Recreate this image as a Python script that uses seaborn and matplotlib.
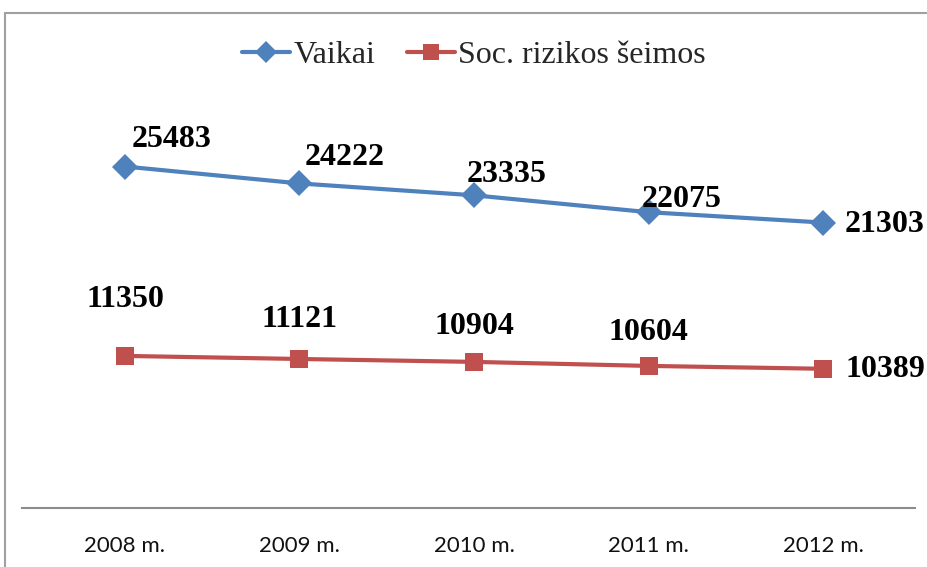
import matplotlib
matplotlib.use("Agg")
import matplotlib.pyplot as plt
import matplotlib.patches as mpatches
import seaborn as sns
import pandas as pd

years = ["2008 m.", "2009 m.", "2010 m.", "2011 m.", "2012 m."]
vaikai = [25483, 24222, 23335, 22075, 21303]
soc = [11350, 11121, 10904, 10604, 10389]
series_names = ["Vaikai", "Soc. rizikos šeimos"]

# label offsets in pixels (style only)
off_vaikai = [(47, 27), (45, 26), (33, 21), (33, 13), (62, -2)]
off_soc = [(0, 56), (0, 39), (0, 35), (0, 33), (62, -1)]

sns.set_theme(style="white")
plt.rcParams["font.family"] = ["Liberation Serif", "DejaVu Sans"]

df = pd.DataFrame({
    "year": years * 2,
    "value": vaikai + soc,
    "series": [series_names[0]] * 5 + [series_names[1]] * 5,
})

fig = plt.figure(figsize=(9.28, 5.67), dpi=100)
ax = fig.add_axes([22 / 928, 59 / 567, 893 / 928, 402 / 567])

colors = {"Vaikai": "#4F81BD", "Soc. rizikos šeimos": "#C0504D"}
markers = {"Vaikai": "D", "Soc. rizikos šeimos": "s"}
sns.lineplot(data=df, x="year", y="value", hue="series", style="series",
             palette=colors, markers=markers, dashes=False, linewidth=3,
             markersize=13, markeredgewidth=0, ax=ax, sort=False)

ax.set_xlim(-0.59, 4.527)
ax.set_ylim(0, 30000)
ax.set_xlabel("")
ax.set_ylabel("")
ax.set_yticks([])
for s in ["top", "left", "right"]:
    ax.spines[s].set_visible(False)
ax.spines["bottom"].set_color("#8c8c8c")
ax.spines["bottom"].set_linewidth(1.5)
ax.tick_params(axis="x", length=0, pad=20)
for lbl in ax.get_xticklabels():
    lbl.set_fontfamily(["Lato", "DejaVu Sans"])
    lbl.set_fontsize(16)
    lbl.set_color("#111111")

def place(vals, offs):
    for i, (v, (dx, dy)) in enumerate(zip(vals, offs)):
        ax.annotate(str(v), (i, v), xytext=(dx * 0.72, dy * 0.72),
                    textcoords="offset points", ha="center", va="center",
                    fontsize=23, fontweight="bold", color="black")

place(vaikai, off_vaikai)
place(soc, off_soc)

h, l = ax.get_legend_handles_labels()
leg = ax.legend(h, l, loc="center", bbox_to_anchor=(474 / 928, 1 - 55 / 567),
                bbox_transform=fig.transFigure, ncol=2, frameon=False,
                fontsize=23, handlelength=1.5, handletextpad=0.1,
                columnspacing=1.0, markerscale=0.85)

fig.patches.append(mpatches.Rectangle((5 / 928, -0.1), 1.2, (567 - 13) / 567 + 0.1,
                                      transform=fig.transFigure, fill=False,
                                      edgecolor="#a0a0a0", linewidth=1.5))

fig.savefig("out.png", dpi=100, facecolor="white")
